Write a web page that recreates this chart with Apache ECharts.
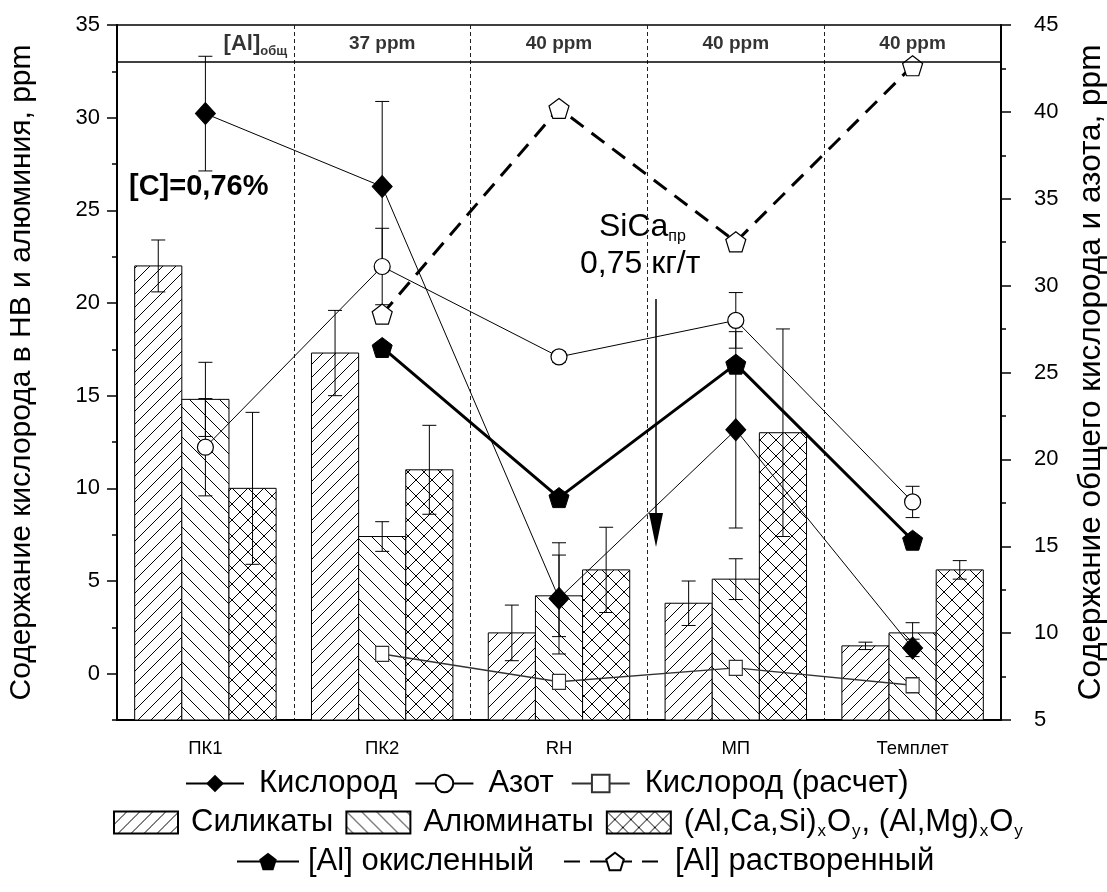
<!DOCTYPE html>
<html>
<head>
<meta charset="utf-8">
<script src="https://cdn.jsdelivr.net/npm/echarts@6/dist/echarts.min.js"></script>
<style>
  html, body { margin: 0; padding: 0; background: #fff; }
  #chart { width: 1107px; height: 892px; }
</style>
</head>
<body>
<div id="chart"></div>
<script>
const categories = ['ПК1', 'ПК2', 'RH', 'МП', 'Темплет'];
const headerLabels = ['{a|[Al]}{s|общ}', '37 ppm', '40 ppm', '40 ppm', '40 ppm'];

// inclusions (left axis), value + error
const silicates = [22.0, 17.3, 2.2, 3.8, 1.5];
const silicatesErr = [1.4, 2.3, 1.5, 1.2, 0.2];
const aluminates = [14.8, 7.4, 4.2, 5.1, 2.2];
const aluminatesErr = [2.0, 0.8, 2.2, 1.1, 0.55];
const complexOx = [10.0, 11.0, 5.6, 13.0, 5.6];
const complexOxErr = [4.1, 2.4, 2.3, 5.6, 0.5];

// total oxygen / nitrogen (right axis)
const oxygen = [39.9, 35.7, 12.0, 21.7, 9.15];
const oxygenErr = [3.3, 4.9, 3.2, 5.65, 0.5];
const nitrogen = [20.7, 31.1, 25.9, 28.0, 17.55];
const nitrogenErr = [2.8, 2.2, 0.3, 1.6, 0.9];
const oxygenCalc = [null, 8.8, 7.2, 8.0, 7.0];

// aluminium (left axis)
const alOxidized = [null, 17.6, 9.5, 16.7, 7.2];
const alDissolved = [null, 19.4, 30.5, 23.3, 32.8];

const leftTicks = [0, 5, 10, 15, 20, 25, 30, 35];
const leftMinorTicks = [-2.5, 2.5, 7.5, 12.5, 17.5, 22.5, 27.5, 32.5];
const leftMin = -2.5, leftMax = 35, rightMin = 5, rightMax = 45;
const headerLevel = 33;

const FONT = 'Liberation Sans';

function hatch(dirs, step) {
  const c = document.createElement('canvas');
  c.width = step; c.height = step;
  const g = c.getContext('2d');
  g.fillStyle = '#fff';
  g.fillRect(0, 0, step, step);
  g.strokeStyle = '#000';
  g.lineWidth = 1;
  dirs.forEach(function (d) {
    g.beginPath();
    if (d === '/') {
      g.moveTo(-2, step + 2); g.lineTo(step + 2, -2);
      g.moveTo(-2, 2); g.lineTo(2, -2);
      g.moveTo(step - 2, step + 2); g.lineTo(step + 2, step - 2);
    } else {
      g.moveTo(-2, -2); g.lineTo(step + 2, step + 2);
      g.moveTo(step - 2, -2); g.lineTo(step + 2, 2);
      g.moveTo(-2, step - 2); g.lineTo(2, step + 2);
    }
    g.stroke();
  });
  return { image: c, repeat: 'repeat' };
}

const patSil = hatch(['/'], 13);
const patAlu = hatch(['\\'], 15);
const patCross = hatch(['/', '\\'], 16);

function cap(x, y) {
  return { type: 'line', shape: { x1: x - 7, y1: y, x2: x + 7, y2: y }, style: { stroke: '#000', lineWidth: 1 } };
}

function barRenderer(k, fill) {
  return function (params, api) {
    const i = api.value(0), v = api.value(1), e = api.value(2);
    const band = api.size([1, 0])[0];
    const w = band * 0.8 / 3;
    const top = api.coord([i, v]);
    const base = api.coord([i, leftMin]);
    const x0 = top[0] - band * 0.4 + k * w;
    const xm = x0 + w / 2;
    const hi = api.coord([i, v + e])[1];
    const lo = api.coord([i, v - e])[1];
    return {
      type: 'group',
      children: [
        { type: 'rect', shape: { x: x0, y: top[1], width: w, height: base[1] - top[1] },
          style: { fill: fill, stroke: '#000', lineWidth: 1 } },
        { type: 'line', shape: { x1: xm, y1: hi, x2: xm, y2: lo }, style: { stroke: '#000', lineWidth: 1 } },
        cap(xm, hi), cap(xm, lo)
      ]
    };
  };
}

function errRenderer(params, api) {
  const i = api.value(0), v = api.value(1), e = api.value(2);
  const hi = api.coord([i, v + e]);
  const lo = api.coord([i, v - e]);
  return {
    type: 'group',
    children: [
      { type: 'line', shape: { x1: hi[0], y1: hi[1], x2: lo[0], y2: lo[1] }, style: { stroke: '#000', lineWidth: 1 } },
      cap(hi[0], hi[1]), cap(lo[0], lo[1])
    ]
  };
}

function triples(vals, errs) {
  return vals.map(function (v, i) { return [i, v, errs[i]]; });
}

const pentagon = 'path://M0,-10L9.51,-3.09L5.88,8.09L-5.88,8.09L-9.51,-3.09Z';
const complexName = '(Al,Ca,Si)xOy, (Al,Mg)xOy';

const legendText = { fontSize: 31, fontFamily: FONT, color: '#000' };

const chart = echarts.init(document.getElementById('chart'));

chart.setOption({
  animation: false,
  textStyle: { fontFamily: FONT, color: '#000' },
  grid: {
    left: 117, right: 106, top: 25, bottom: 172, outerBoundsMode: 'none',
    show: true, borderColor: '#000', borderWidth: 1.5
  },
  legend: [
    {
      data: ['Кислород', 'Азот', 'Кислород (расчет)'],
      top: 763, left: 180, itemWidth: 58, itemHeight: 22, itemGap: 17,
      textStyle: Object.assign({ padding: [0, 0, 0, 10] }, legendText)
    },
    {
      data: ['Силикаты', 'Алюминаты', complexName],
      top: 802, left: 108, icon: 'rect', itemWidth: 64, itemHeight: 22, itemGap: 12,
      textStyle: Object.assign({
        padding: [0, 0, 0, 8],
        rich: { s: { fontSize: 17, fontFamily: FONT, padding: [18, 1, 0, 1] } }
      }, legendText),
      formatter: function (name) {
        if (name === complexName) return '(Al,Ca,Si){s|x}O{s|y}, (Al,Mg){s|x}O{s|y}';
        return name;
      }
    },
    {
      data: ['[Al] окисленный'],
      top: 841, left: 231, itemWidth: 62, itemHeight: 22,
      textStyle: Object.assign({ padding: [0, 0, 0, 4] }, legendText)
    },
    {
      data: ['[Al] растворенный'],
      top: 841, left: 558, itemWidth: 102, itemHeight: 22,
      textStyle: Object.assign({ padding: [0, 0, 0, 4] }, legendText)
    }
  ],
  xAxis: [
    {
      type: 'category', data: categories, position: 'bottom', boundaryGap: true,
      axisLine: { onZero: false, lineStyle: { color: '#000', width: 2 } },
      axisTick: { length: 9, lineStyle: { color: '#000', width: 1.5 } },
      axisLabel: { fontSize: 18.5, margin: 19, color: '#000' },
      splitLine: { show: true, lineStyle: { color: '#222', width: 1, type: [4, 3] } }
    },
    {
      type: 'category', data: categories, position: 'bottom', boundaryGap: true,
      axisLine: { show: false, onZero: false },
      axisTick: { alignWithLabel: true, length: 9, lineStyle: { color: '#000', width: 1.5 } },
      axisLabel: { show: false },
      splitLine: { show: false }
    }
  ],
  yAxis: [
    {
      type: 'value', position: 'left', min: leftMin, max: leftMax,
      name: 'Содержание кислорода в НВ и алюминия, ppm',
      nameLocation: 'middle', nameGap: 80, nameRotate: 90,
      nameTextStyle: { fontSize: 30, color: '#000' },
      axisLine: { show: true, lineStyle: { color: '#000', width: 2 } },
      axisTick: { show: true, length: 10, customValues: leftTicks, lineStyle: { color: '#000', width: 1.5 } },
      axisLabel: { customValues: leftTicks, fontSize: 22, margin: 17, color: '#000' },
      splitLine: { show: false }
    },
    {
      type: 'value', position: 'right', min: rightMin, max: rightMax, interval: 5,
      name: 'Содержание общего кислорода и азота, ppm',
      nameLocation: 'middle', nameGap: 74, nameRotate: 90,
      nameTextStyle: { fontSize: 31.5, color: '#000' },
      axisLine: { show: true, lineStyle: { color: '#000', width: 2 } },
      axisTick: { show: true, length: 10, lineStyle: { color: '#000', width: 1.5 } },
      minorTick: { show: true, splitNumber: 2, length: 5, lineStyle: { color: '#000', width: 1.5 } },
      axisLabel: { fontSize: 22, margin: 33, color: '#000' },
      splitLine: { show: false }
    },
    {
      type: 'value', position: 'left', min: leftMin, max: leftMax,
      axisLine: { show: false },
      axisTick: { show: true, length: 5, customValues: leftMinorTicks, lineStyle: { color: '#000', width: 1.5 } },
      axisLabel: { show: false },
      splitLine: { show: false }
    }
  ],
  series: [
    {
      name: 'Силикаты', type: 'custom', yAxisIndex: 0, z: 2,
      itemStyle: { color: patSil, borderColor: '#000', borderWidth: 1 },
      renderItem: barRenderer(0, patSil), encode: { x: 0, y: 1 },
      data: triples(silicates, silicatesErr)
    },
    {
      name: 'Алюминаты', type: 'custom', yAxisIndex: 0, z: 2,
      itemStyle: { color: patAlu, borderColor: '#000', borderWidth: 1 },
      renderItem: barRenderer(1, patAlu), encode: { x: 0, y: 1 },
      data: triples(aluminates, aluminatesErr)
    },
    {
      name: complexName, type: 'custom', yAxisIndex: 0, z: 2,
      itemStyle: { color: patCross, borderColor: '#000', borderWidth: 1 },
      renderItem: barRenderer(2, patCross), encode: { x: 0, y: 1 },
      data: triples(complexOx, complexOxErr)
    },
    {
      name: 'Кислород', type: 'line', yAxisIndex: 1, z: 4,
      data: oxygen, symbol: 'diamond', symbolSize: [20, 22],
      lineStyle: { color: '#000', width: 1 },
      itemStyle: { color: '#000', borderColor: '#000' }
    },
    {
      name: 'oxErr', type: 'custom', yAxisIndex: 1, z: 3,
      renderItem: errRenderer, encode: { x: 0, y: 1 },
      data: triples(oxygen, oxygenErr)
    },
    {
      name: 'Азот', type: 'line', yAxisIndex: 1, z: 4,
      data: nitrogen, symbol: 'circle', symbolSize: 16,
      lineStyle: { color: '#000', width: 1 },
      itemStyle: { color: '#fff', borderColor: '#000', borderWidth: 1.2 }
    },
    {
      name: 'nErr', type: 'custom', yAxisIndex: 1, z: 3,
      renderItem: errRenderer, encode: { x: 0, y: 1 },
      data: triples(nitrogen, nitrogenErr)
    },
    {
      name: 'Кислород (расчет)', type: 'line', yAxisIndex: 1, z: 4,
      data: oxygenCalc, symbol: 'rect', symbolSize: [13, 15],
      lineStyle: { color: '#333', width: 1.5 },
      itemStyle: { color: '#fff', borderColor: '#333', borderWidth: 1.2 }
    },
    {
      name: '[Al] окисленный', type: 'line', yAxisIndex: 0, z: 4,
      data: alOxidized, symbol: pentagon, symbolSize: 20,
      lineStyle: { color: '#000', width: 3 },
      itemStyle: { color: '#000', borderColor: '#000' },
      markLine: {
        silent: true, symbol: 'none', label: { show: false },
        lineStyle: { color: '#000', width: 1.5, type: 'solid' },
        data: [{ yAxis: headerLevel }]
      }
    },
    {
      name: '[Al] растворенный', type: 'line', yAxisIndex: 0, z: 4,
      data: alDissolved, symbol: pentagon, symbolSize: 20,
      lineStyle: { color: '#000', width: 3, type: [16, 10] },
      itemStyle: { color: '#fff', borderColor: '#000', borderWidth: 1.2 }
    },
    {
      name: 'header', type: 'scatter', yAxisIndex: 0, z: 5, symbolSize: 0, silent: true,
      data: headerLabels.map(function (t, i) {
        return { value: [i, 34], label: { offset: i === 0 ? [50, 0] : [0, 0] } };
      }),
      label: {
        show: true, position: 'inside', color: '#000',
        fontSize: 19, fontWeight: 'bold', fontFamily: FONT,
        formatter: function (p) { return headerLabels[p.dataIndex]; },
        rich: {
          a: { fontSize: 22, fontWeight: 'bold', fontFamily: FONT },
          s: { fontSize: 13, fontWeight: 'bold', fontFamily: FONT, padding: [16, 0, 0, 0] }
        }
      }
    }
  ],
  graphic: [
    { type: 'text', left: 129, top: 172,
      style: { text: '[C]=0,76%', fontSize: 29, fontWeight: 'bold', fontFamily: FONT, fill: '#000' } },
    { type: 'text', left: 599, top: 211,
      style: { text: '{a|SiCa}{s|пр}', fontFamily: FONT, fill: '#000',
        rich: { a: { fontSize: 32, fontFamily: FONT }, s: { fontSize: 16, fontFamily: FONT, padding: [20, 0, 0, 0] } } } },
    { type: 'text', left: 580, top: 248,
      style: { text: '0,75 кг/т', fontSize: 32, fontFamily: FONT, fill: '#000' } },
    { type: 'line', shape: { x1: 656, y1: 299, x2: 656, y2: 515 }, style: { stroke: '#000', lineWidth: 1.5 } },
    { type: 'polygon', shape: { points: [[649, 513], [663, 513], [656, 547]] }, style: { fill: '#000' } }
  ]
});
</script>
</body>
</html>
